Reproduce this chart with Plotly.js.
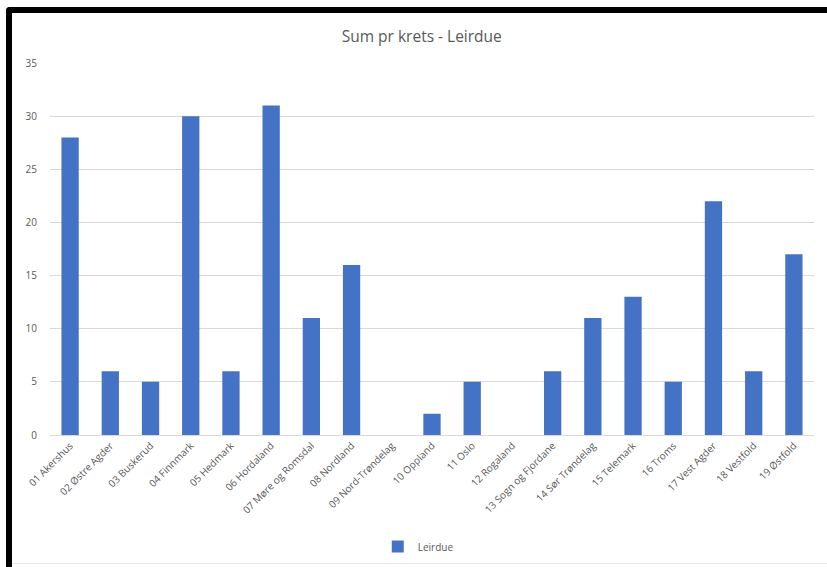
<!DOCTYPE html>
<html>
<head>
<meta charset="utf-8">
<script src="https://cdn.plot.ly/plotly-3.0.1.min.js"></script>
<style>
html,body{margin:0;padding:0;background:#fff;}
#wrap{position:relative;width:827px;height:567px;overflow:hidden;}
#chart{position:absolute;left:0;top:0;width:827px;height:567px;}
#frame{position:absolute;left:6px;top:7px;width:900px;height:700px;border-left:6px solid #000;border-top:6px solid #000;border-top-left-radius:4px;pointer-events:none;}
#bline{position:absolute;left:12px;top:563px;width:815px;height:1px;background:#e6e6e6;}
</style>
</head>
<body>
<div id="wrap">
<div id="chart"></div>
<div id="frame"></div>
<div id="bline"></div>
</div>
<script>
const categories = ["01 Akershus","02 Østre Agder","03 Buskerud","04 Finnmark","05 Hedmark","06 Hordaland","07 Møre og Romsdal","08 Nordland","09 Nord-Trøndelag","10 Oppland","11 Oslo","12 Rogaland","13 Sogn og Fjordane","14 Sør Trøndelag","15 Telemark","16 Troms","17 Vest Agder","18 Vestfold","19 Østfold"];
const leirdue = [28,6,5,30,6,31,11,16,0,2,5,0,6,11,13,5,22,6,17];
const seriesName = "Leirdue";
const titleText = "Sum pr krets - Leirdue";

const font = "Open Sans, Noto Sans, sans-serif";
Plotly.newPlot("chart", [{
  type: "bar",
  x: categories,
  y: leirdue,
  name: seriesName,
  marker: {color: "#4472c4"},
  hoverinfo: "x+y"
}], {
  width: 827, height: 567,
  margin: {l: 50, r: 13, t: 63, b: 132, autoexpand: false},
  paper_bgcolor: "rgba(0,0,0,0)",
  plot_bgcolor: "rgba(0,0,0,0)",
  title: {text: titleText, font: {family: font, size: 15.5, color: "#595959"}, x: 0.51, xanchor: "center", y: 0.935, yanchor: "middle"},
  bargap: 0.57,
  showlegend: true,
  legend: {orientation: "h", x: 0.482, xanchor: "center", y: -0.30, yanchor: "middle", font: {family: font, size: 10, color: "#595959"}},
  xaxis: {
    tickangle: -45,
    tickfont: {family: font, size: 10, color: "#595959"},
    showline: true, linecolor: "#d9d9d9", linewidth: 1,
    ticks: "", showgrid: false, zeroline: false, automargin: false
  },
  yaxis: {
    range: [0, 35], dtick: 5,
    tickfont: {family: font, size: 10, color: "#595959"},
    gridcolor: "#d9d9d9", gridwidth: 1,
    zeroline: false, showline: false, ticks: "", ticklabelstandoff: 12, automargin: false
  }
}, {staticPlot: true});
</script>
</body>
</html>
